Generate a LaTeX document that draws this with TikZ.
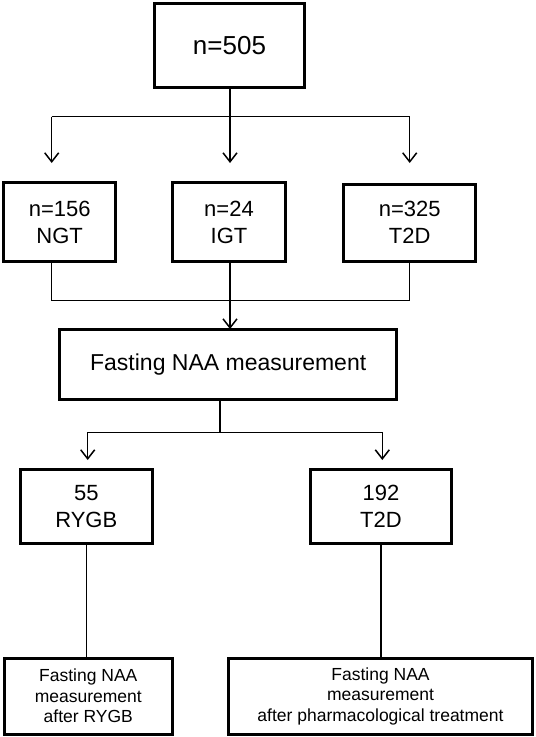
\documentclass[tikz,border=0pt]{standalone}
\usepackage{fontspec}
\setmainfont{Liberation Sans}
\usetikzlibrary{arrows.meta}
\begin{document}
\begin{tikzpicture}[x=1bp,y=-1bp,
  box/.style={draw=black,line width=3bp,rectangle,inner sep=0pt,align=center},
  conn/.style={draw=black,line width=1.5bp},
  arr/.style={conn,-{Straight Barb[length=9bp,width=14bp,line width=1.5bp]}},
  fbig/.style={font=\fontsize{26bp}{31bp}\selectfont},
  fmid/.style={font=\fontsize{22bp}{27bp}\selectfont},
  ffast/.style={font=\fontsize{23bp}{28bp}\selectfont},
  fsmall/.style={font=\fontsize{17.5bp}{20.5bp}\selectfont}]
\useasboundingbox (0,0) rectangle (536,737);
% boxes
\node[box,fbig,minimum width=149.5bp,minimum height=83.5bp] (n505) at (229.5,45.5) {n=505};
\node[box,fmid,minimum width=112.5bp,minimum height=78.5bp] (ngt) at (59.7,222) {n=156\\NGT};
\node[box,fmid,minimum width=113bp,minimum height=78.5bp] (igt) at (229,222) {n=24\\IGT};
\node[box,fmid,minimum width=131.8bp,minimum height=77bp] (t2d) at (409.7,222.6) {n=325\\T2D};
\node[box,ffast,minimum width=336.8bp,minimum height=70.9bp] (fast) at (228.2,364.5) {Fasting NAA measurement};
\node[box,fmid,minimum width=132.5bp,minimum height=73.8bp] (rygb) at (86.3,506.7) {55\\RYGB};
\node[box,fmid,minimum width=140.8bp,minimum height=73.8bp] (t2db) at (380.9,506.7) {192\\T2D};
\node[box,fsmall,minimum width=168.5bp,minimum height=76.2bp] (afterR) at (88.3,696.2) {Fasting NAA\\measurement\\after RYGB};
\node[box,fsmall,minimum width=303.5bp,minimum height=76.2bp] (afterP) at (380.5,696.2) {Fasting NAA\\measurement\\after pharmacological treatment};
% first split
\coordinate (s1) at (230,116.7);
\coordinate (s1l) at (51.7,116.7);
\coordinate (s1r) at (409.7,116.7);
\coordinate (t1l) at (51.7,163);
\coordinate (t1m) at (230,163);
\coordinate (t1r) at (409.7,163);
\draw[conn] (n505.south -| s1) -- (s1);
\draw[conn] (s1l) -- (s1r);
\draw[arr] (s1l) -- (t1l);
\draw[arr] (s1) -- (t1m);
\draw[arr] (s1r) -- (t1r);
% merge
\coordinate (m1l) at (51.7,300.7);
\coordinate (m1r) at (409.7,300.7);
\draw[conn] (m1l |- ngt.south) -- (m1l) -- (m1r) -- (m1r |- t2d.south);
\draw[arr] (igt.south -| s1) -- ([yshift=-1.5bp]fast.north -| s1);
% second split
\coordinate (s2) at (220,432.3);
\coordinate (s2l) at (87.7,432.3);
\coordinate (s2r) at (382.3,432.3);
\coordinate (t2l) at (87.7,460);
\coordinate (t2r) at (382.3,460);
\draw[conn] (fast.south -| s2) -- (s2);
\draw[conn] (s2l) -- (s2r);
\draw[arr] (s2l) -- (t2l);
\draw[arr] (s2r) -- (t2r);
% lower links
\draw[conn] (rygb.south) -- (rygb.south |- afterR.north);
\draw[conn] (t2db.south) -- (t2db.south |- afterP.north);
\end{tikzpicture}
\end{document}
